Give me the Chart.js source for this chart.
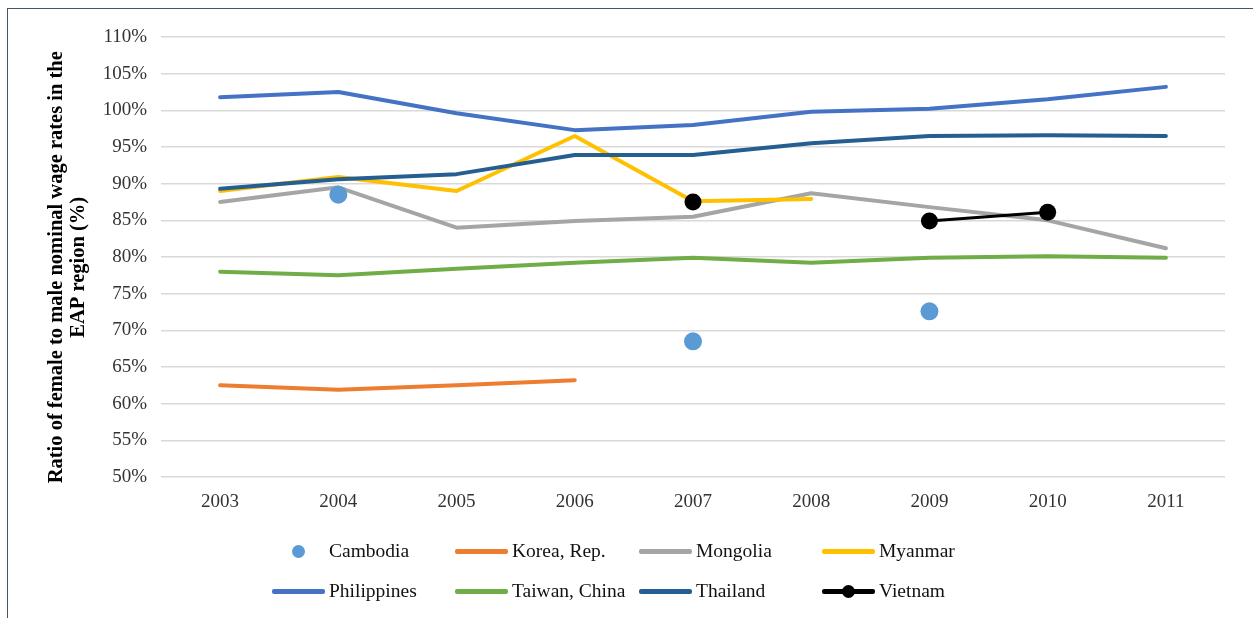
<!DOCTYPE html>
<html>
<head>
<meta charset="utf-8">
<script src="https://cdn.jsdelivr.net/npm/chart.js@4.4.0/dist/chart.umd.min.js"></script>
<style>
  html, body { margin: 0; padding: 0; background: #fff; }
  #wrap { position: relative; width: 1253px; height: 618px; overflow: hidden; }
  #frame { position: absolute; left: 7px; top: 8px; width: 1300px; height: 700px;
           border-left: 1.5px solid #44546a; border-top: 1.5px solid #44546a; }
  canvas { position: absolute; left: 0; top: 0; }
  .leg { position: absolute; font: 19.5px "Liberation Serif", serif; color: #111111;
         display: flex; align-items: center; height: 22px; white-space: nowrap; }
  .sw { position: relative; width: 53px; height: 22px; margin-right: 4px; }
  .sw .ln { position: absolute; left: 0; right: 0; top: 9px; height: 4.5px; border-radius: 2px; }
  .sw .dot { position: absolute; left: 20px; top: 5px; width: 13px; height: 13px; border-radius: 50%; }
</style>
</head>
<body>
<div id="wrap">
  <div id="frame"></div>
  <canvas id="chart" width="1253" height="618"></canvas>
  <div id="legend"></div>
</div>
<script>
// years on the x axis
const years = ["2003", "2004", "2005", "2006", "2007", "2008", "2009", "2010", "2011"];

// ratio of female to male wage, in percent (null = no data)
const cambodia    = [null, 88.5, null, null, 68.5, null, 72.6, null, null];
const korea       = [62.5, 61.9, 62.5, 63.2, null, null, null, null, null];
const mongolia    = [87.5, 89.5, 84.0, 84.9, 85.5, 88.7, 86.8, 85.0, 81.2];
const myanmar     = [89.0, 90.9, 89.0, 96.5, 87.6, 87.9, null, null, null];
const philippines = [101.8, 102.5, 99.6, 97.3, 98.0, 99.8, 100.2, 101.5, 103.2];
const taiwan      = [78.0, 77.5, 78.4, 79.2, 79.9, 79.2, 79.9, 80.1, 79.9];
const thailand    = [89.3, 90.6, 91.3, 93.9, 93.9, 95.5, 96.5, 96.6, 96.5];
const vietnam     = [null, null, null, null, 87.5, null, 84.9, 86.1, null];

const fontFamily = '"Liberation Serif", serif';

function lineSet(label, data, color) {
  return {
    label: label,
    data: data,
    borderColor: color,
    backgroundColor: color,
    borderWidth: 4,
    borderCapStyle: "round",
    borderJoinStyle: "round",
    pointRadius: 0,
    pointHoverRadius: 0,
    tension: 0,
    spanGaps: false,
  };
}

// first dataset is painted on top
const datasets = [
  {
    label: "Vietnam",
    data: vietnam,
    borderColor: "#000000",
    backgroundColor: "#000000",
    borderWidth: 3,
    pointRadius: 8.5,
    pointBorderWidth: 0,
    spanGaps: false,
  },
  {
    label: "Cambodia",
    data: cambodia,
    showLine: false,
    backgroundColor: "#5b9bd5",
    borderColor: "#5b9bd5",
    pointRadius: 9,
    pointBorderWidth: 0,
  },
  lineSet("Thailand", thailand, "#255e91"),
  lineSet("Philippines", philippines, "#4472c4"),
  lineSet("Myanmar", myanmar, "#ffc000"),
  lineSet("Mongolia", mongolia, "#a5a5a5"),
  lineSet("Taiwan, China", taiwan, "#70ad47"),
  lineSet("Korea, Rep.", korea, "#ed7d31"),
];

// trailing spaces nudge the rotated title a little lower, like the original
const pad = "\u00a0\u00a0\u00a0\u00a0";

const ctx = document.getElementById("chart").getContext("2d");
new Chart(ctx, {
  type: "line",
  data: { labels: years, datasets: datasets },
  options: {
    responsive: false,
    animation: false,
    layout: { padding: { left: 8, top: 37, right: 28, bottom: 0 } },
    plugins: { legend: { display: false }, tooltip: { enabled: false } },
    scales: {
      x: {
        offset: true,
        grid: { display: false, drawTicks: false },
        border: { display: false },
        ticks: { padding: 14, color: "#333333", font: { family: fontFamily, size: 19 } },
        afterFit: function (scale) { scale.height = 141; },
      },
      y: {
        min: 50,
        max: 110,
        grid: { color: "#d9d9d9", lineWidth: 1.5, drawTicks: false },
        border: { display: false },
        ticks: {
          stepSize: 5,
          padding: 14,
          color: "#333333",
          font: { family: fontFamily, size: 19 },
          callback: function (v) { return v + "%"; },
        },
        title: {
          display: true,
          text: ["Ratio of female to male nominal wage rates in the" + pad, "EAP region (%)" + pad],
          color: "#000000",
          font: { family: fontFamily, size: 20.5, weight: "bold", lineHeight: 1.05 },
          padding: { top: 38, bottom: 0 },
        },
        afterFit: function (scale) { scale.width = 153; },
      },
    },
  },
});

// legend laid out in a grid like the original
const legendItems = [
  { label: "Cambodia", color: "#5b9bd5", kind: "dot", x: 272, y: 540 },
  { label: "Korea, Rep.", color: "#ed7d31", kind: "line", x: 455, y: 540 },
  { label: "Mongolia", color: "#a5a5a5", kind: "line", x: 639, y: 540 },
  { label: "Myanmar", color: "#ffc000", kind: "line", x: 822, y: 540 },
  { label: "Philippines", color: "#4472c4", kind: "line", x: 272, y: 580 },
  { label: "Taiwan, China", color: "#70ad47", kind: "line", x: 455, y: 580 },
  { label: "Thailand", color: "#255e91", kind: "line", x: 639, y: 580 },
  { label: "Vietnam", color: "#000000", kind: "both", x: 822, y: 580 },
];
const legend = document.getElementById("legend");
legendItems.forEach(function (item) {
  const div = document.createElement("div");
  div.className = "leg";
  div.style.left = item.x + "px";
  div.style.top = item.y + "px";
  let sw = '<span class="sw">';
  if (item.kind !== "dot") sw += '<span class="ln" style="background:' + item.color + '"></span>';
  if (item.kind !== "line") sw += '<span class="dot" style="background:' + item.color + '"></span>';
  sw += "</span>";
  div.innerHTML = sw + "<span>" + item.label + "</span>";
  legend.appendChild(div);
});
</script>
</body>
</html>
